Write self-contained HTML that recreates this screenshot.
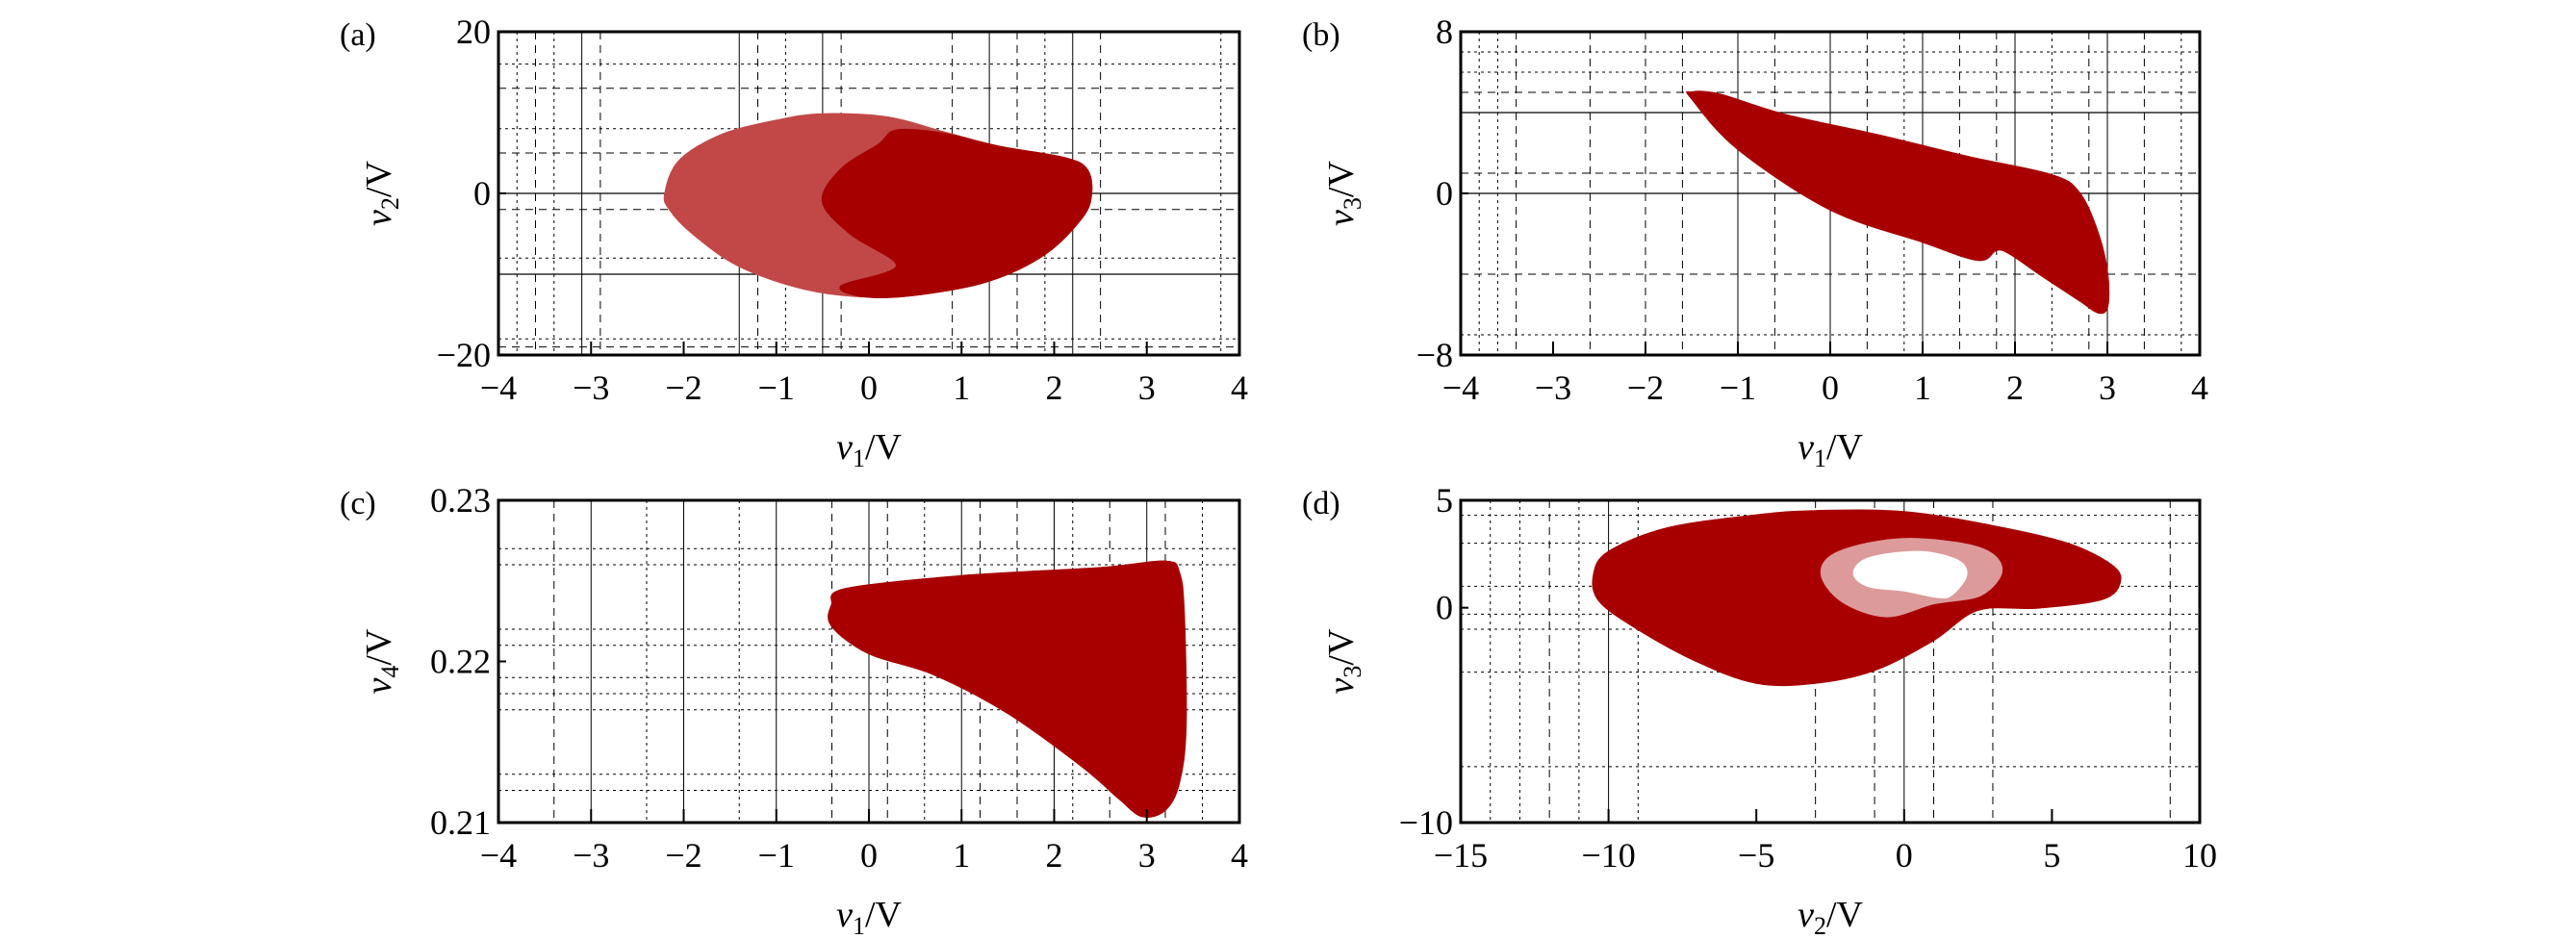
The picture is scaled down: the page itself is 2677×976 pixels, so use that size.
<!DOCTYPE html>
<html><head><meta charset="utf-8">
<style>
html,body{margin:0;padding:0;background:#fff;}
svg{display:block;}
text{font-family:"Liberation Serif",serif;fill:#000;}
</style></head>
<body>
<svg id="fig" width="2677" height="976" viewBox="0 0 2677 976" xmlns="http://www.w3.org/2000/svg"></svg>
<script>
// ---- data ----
// panel a: v1 vs v2
const aOuter = [[-2.2,0],[-2.05,4],[-1.6,7.2],[-1.0,9.0],[-0.5,9.8],[0.2,9.4],[0.8,7.6],[1.4,5.8],[2.1,4.4],[2.35,3.0],[2.4,0],[2.3,-3],[1.9,-7.5],[1.3,-10.8],[0.6,-12.4],[0,-12.8],[-0.7,-11.8],[-1.4,-9],[-1.9,-5],[-2.15,-2]];
const aDense = [[0.3,7.8],[0.8,7.4],[1.4,5.8],[2.1,4.4],[2.35,3.0],[2.4,0],[2.3,-3],[1.9,-7.5],[1.3,-10.8],[0.6,-12.4],[0,-12.8],[-0.3,-11.5],[0.3,-9],[-0.2,-5],[-0.5,-1],[-0.3,3],[0.1,6]];
// panel b: v1 vs v3
const bOuter = [[-1.5,5.0],[-1.2,4.9],[-0.5,3.9],[0.5,2.9],[1.5,1.8],[2.4,0.9],[2.7,0],[2.9,-2],[3.0,-4],[3.0,-5.6],[2.9,-5.9],[2.7,-5.3],[2.3,-4.1],[1.95,-3.0],[1.8,-2.8],[1.6,-3.3],[1.0,-2.4],[0,-0.8],[-1,2.2],[-1.5,4.7]];
// panel c: v1 vs v4
const cOuter = [[-0.4,0.2235],[-0.25,0.2245],[1,0.2253],[2.5,0.2258],[3.2,0.2262],[3.35,0.2255],[3.4,0.223],[3.42,0.216],[3.35,0.2125],[3.2,0.2108],[2.95,0.2104],[2.7,0.2115],[2.3,0.2135],[1.5,0.2168],[0.7,0.2192],[0,0.2205],[-0.4,0.2222]];
// panel d: v2 vs v3
const dOuter = [[-10.5,1.5],[-10,2.6],[-8,3.7],[-5,4.3],[-3,4.5],[0,4.45],[3,3.8],[5.5,3],[7,2],[7.3,1.2],[6.7,0.4],[4.5,0],[2.5,-0.1],[1,-1.5],[-1,-2.9],[-3,-3.5],[-5,-3.5],[-7,-2.5],[-9,-1],[-10.3,0.3]];
const dRing = [[-2.8,1.6],[-2.2,2.6],[0,3.2],[2.5,2.8],[3.3,1.8],[2.6,0.6],[1,0.2],[-0.6,-0.4],[-2.1,0.3]];
const dHole = [[-1.7,1.6],[-1.2,2.3],[0.5,2.6],[1.8,2.2],[2.1,1.5],[1.6,0.6],[1.1,0.5],[0,0.8],[-1.2,1.0]];

const panels = [
 {id:'a',x0:518,x1:1288,y0:33,y1:369,xmin:-4,xmax:4,ymin:-20,ymax:20,xt:[-4,-3,-2,-1,0,1,2,3,4],xl:['−4','−3','−2','−1','0','1','2','3','4'],yt:[20,0,-20],yl:['20','0','−20'],xs:'1',ys:'2',
  gs:[-3.1,-1.4,-0.5,1.3,2.2],gd:[-3.6,-2.9,-1.2,-0.3,0.9,1.6,2.5],gdot:[-3.8,-3.4,-0.9,1.9,3.8],hs:[0,-10],hd:[13,5,-2,-19],hdot:[16,8,-8,-18]},
 {id:'b',x0:1518,x1:2286,y0:33,y1:369,xmin:-4,xmax:4,ymin:-8,ymax:8,xt:[-4,-3,-2,-1,0,1,2,3,4],xl:['−4','−3','−2','−1','0','1','2','3','4'],yt:[8,0,-8],yl:['8','0','−8'],xs:'1',ys:'3',
  gs:[-1,0,1,2,3],gd:[-3.4,-2.6,-2,-1.6,-0.6,0.4,1.4,1.8,2.8,3.4],gdot:[-3.8,-3.6,0.8,2.4,3.8],hs:[4,0],hd:[5,1,-4],hdot:[7,6,-7]},
 {id:'c',x0:518,x1:1288,y0:520,y1:855,xmin:-4,xmax:4,ymin:0.21,ymax:0.23,xt:[-4,-3,-2,-1,0,1,2,3,4],xl:['−4','−3','−2','−1','0','1','2','3','4'],yt:[0.23,0.22,0.21],yl:['0.23','0.22','0.21'],xs:'1',ys:'4',
  gs:[-3,-2,-1,0,1,2,3],gd:[-3.4,-0.4,0.2,1.2,1.6,2.6,3.2],gdot:[-2.4,-1.4,0.6,2.2,3.6],hs:[],hd:[],hdot:[0.227,0.226,0.222,0.221,0.219,0.218,0.217,0.213,0.212]},
 {id:'d',x0:1518,x1:2286,y0:520,y1:855,xmin:-15,xmax:10,ymin:-10,ymax:5,xt:[-15,-10,-5,0,5,10],xl:['−15','−10','−5','0','5','10'],yt:[5,0,-10],yl:['5','0','−10'],xs:'2',ys:'3',
  gs:[-10,0],gd:[-12,-3,-1,1,3,9],gdot:[-14,-13,-11,-9],hs:[],hd:[],hdot:[4.3,3,1,-0.3,-1,-3,-7.4]}
];
const shapes = {a:[[aOuter,'#c24848'],[aDense,'#a60000']], b:[[bOuter,'#a80000']], c:[[cOuter,'#a80000']], d:[[dOuter,'#a80000'],[dRing,'#dd9a9a'],[dHole,'#ffffff']]};

const NS='http://www.w3.org/2000/svg';
const svg=document.getElementById('fig');
function mk(tag,attrs,parent){const e=document.createElementNS(NS,tag);for(const k in attrs)e.setAttribute(k,attrs[k]);(parent||svg).appendChild(e);return e;}
function smooth(P){const n=P.length;let d='M'+P[0][0].toFixed(1)+','+P[0][1].toFixed(1);
 for(let i=0;i<n;i++){const p0=P[(i-1+n)%n],p1=P[i],p2=P[(i+1)%n],p3=P[(i+2)%n];
  const c1=[p1[0]+(p2[0]-p0[0])/6,p1[1]+(p2[1]-p0[1])/6],c2=[p2[0]-(p3[0]-p1[0])/6,p2[1]-(p3[1]-p1[1])/6];
  d+=' C'+c1[0].toFixed(1)+','+c1[1].toFixed(1)+' '+c2[0].toFixed(1)+','+c2[1].toFixed(1)+' '+p2[0].toFixed(1)+','+p2[1].toFixed(1);}
 return d+'Z';}

panels.forEach(p=>{
 const sx=v=>p.x0+(v-p.xmin)/(p.xmax-p.xmin)*(p.x1-p.x0);
 const sy=v=>p.y1-(v-p.ymin)/(p.ymax-p.ymin)*(p.y1-p.y0);
 const g=mk('g',{});
 
 
 const grid=mk('g',{},g);
 
 
 p.gs.forEach(v=>mk('line',{x1:sx(v),x2:sx(v),y1:p.y0,y2:p.y1,stroke:'#000','stroke-width':1},grid));
 p.gd.forEach(v=>mk('line',{x1:sx(v),x2:sx(v),y1:p.y0,y2:p.y1,stroke:'#000','stroke-width':1,'stroke-dasharray':'8 6'},grid));
 p.gdot.forEach(v=>mk('line',{x1:sx(v),x2:sx(v),y1:p.y0,y2:p.y1,stroke:'#000','stroke-width':1,'stroke-dasharray':'3 4'},grid));
 p.hs.forEach(v=>mk('line',{x1:p.x0,x2:p.x1,y1:sy(v),y2:sy(v),stroke:'#000','stroke-width':1.3},grid));
 p.hd.forEach(v=>mk('line',{x1:p.x0,x2:p.x1,y1:sy(v),y2:sy(v),stroke:'#000','stroke-width':1,'stroke-dasharray':'8 6'},grid));
 p.hdot.forEach(v=>mk('line',{x1:p.x0,x2:p.x1,y1:sy(v),y2:sy(v),stroke:'#000','stroke-width':1,'stroke-dasharray':'3 4'},grid));
 shapes[p.id].forEach((s,i)=>{
  const P=s[0].map(q=>[sx(q[0]),sy(q[1])]);
  const path=mk('path',{d:smooth(P),fill:s[1],stroke:s[1],'stroke-width':2},g);
  
  
 });
 const fr=mk('rect',{x:p.x0,y:p.y0,width:p.x1-p.x0,height:p.y1-p.y0,fill:'none',stroke:'#000','stroke-width':3},g);
 
 
 p.xt.forEach((v,i)=>{
  mk('line',{x1:sx(v),x2:sx(v),y1:p.y1,y2:p.y1-14,stroke:'#000','stroke-width':2},g);
  const t=mk('text',{x:sx(v),y:p.y1+46,'font-size':36,'text-anchor':'middle'},g);
  t.textContent=p.xl[i];
  
  
 });
 p.yt.forEach((v,i)=>{
  mk('line',{x1:p.x0,x2:p.x0+8,y1:sy(v),y2:sy(v),stroke:'#000','stroke-width':2},g);
  const t=mk('text',{x:p.x0-8,y:sy(v)+12,'font-size':36,'text-anchor':'end'},g);
  t.textContent=p.yl[i];
  
  
 });
 const xlab=mk('text',{x:(p.x0+p.x1)/2,y:p.y1+108,'font-size':38,'text-anchor':'middle'},g);
 xlab.innerHTML='<tspan font-style="italic">v</tspan><tspan font-size="26" dy="8">'+p.xs+'</tspan><tspan dy="-8">/V</tspan>';
 
 
 const cy=(p.y0+p.y1)/2, cx=p.x0-112;
 const ylab=mk('text',{x:cx,y:cy,'font-size':38,'text-anchor':'middle',transform:'rotate(-90 '+cx+' '+cy+')'},g);
 ylab.innerHTML='<tspan font-style="italic">v</tspan><tspan font-size="26" dy="8">'+p.ys+'</tspan><tspan dy="-8">/V</tspan>';
 
 
 const pl=mk('text',{x:p.x0-165,y:p.y0+14,'font-size':34},g);
 pl.textContent='('+p.id+')';
 
 
});
</script>
</body></html>
